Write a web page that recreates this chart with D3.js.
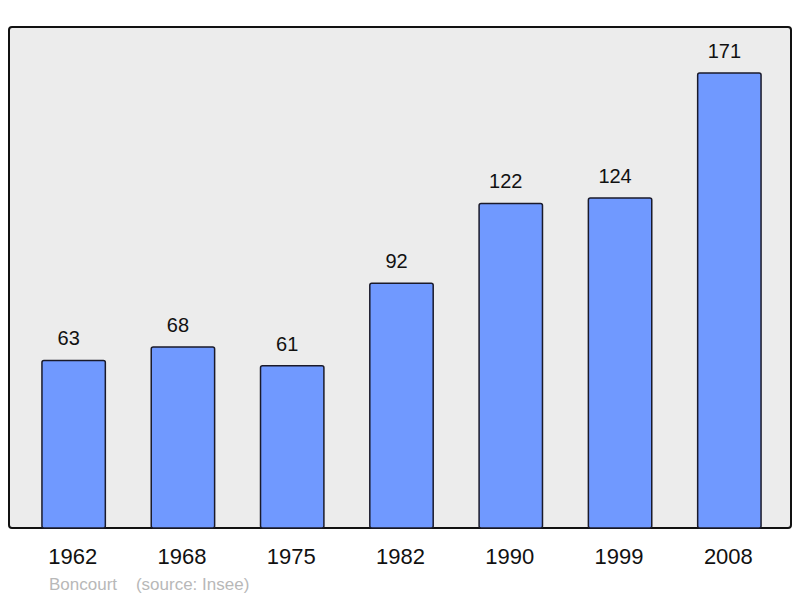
<!DOCTYPE html>
<html><head><meta charset="utf-8">
<script src="https://cdn.jsdelivr.net/npm/d3@7"></script>
<style>body{margin:0;background:#fff;}svg{display:block;font-family:"Liberation Sans",Arial,sans-serif;}</style>
</head><body>
<script>
const years = ["1962","1968","1975","1982","1990","1999","2008"];
const population = [63, 68, 61, 92, 122, 124, 171];
const commune = "Boncourt";
const source = "(source: Insee)";

const W = 800, H = 598;
const svg = d3.select("body").append("svg").attr("width", W).attr("height", H);
const frame = {x0: 9, y0: 27, x1: 791, y1: 528};

svg.append("rect").attr("x", frame.x0).attr("y", frame.y0)
  .attr("width", frame.x1 - frame.x0).attr("height", frame.y1 - frame.y0)
  .attr("rx", 3).attr("fill", "#ececec").attr("stroke", "#111").attr("stroke-width", 2);

const x = d3.scaleBand().domain(years).range([19, 784]).paddingInner(0.42).paddingOuter(0.21);
const y = d3.scaleLinear().domain([0, 188.3]).range([frame.y1, frame.y0]);

svg.selectAll("rect.bar").data(population).join("rect").attr("class", "bar")
  .attr("x", (d, i) => x(years[i])).attr("width", x.bandwidth())
  .attr("y", d => y(d)).attr("height", d => y(0) - y(d))
  .attr("rx", 2).attr("fill", "#7099ff").attr("stroke", "#1a1a2a").attr("stroke-width", 1.5);

svg.selectAll("text.val").data(population).join("text").attr("class", "val")
  .attr("x", (d, i) => x(years[i]) + x.bandwidth() / 2 - 5).attr("y", d => y(d) - 15)
  .attr("text-anchor", "middle").attr("font-size", 20).attr("fill", "#111").text(d => d);

const xAxis = svg.append("g").attr("transform", `translate(0,${frame.y1})`)
  .call(d3.axisBottom(x).tickSize(0).tickPadding(20));
xAxis.select(".domain").remove();
xAxis.selectAll("text").attr("font-size", 22).attr("fill", "#111")
  .attr("dx", -1)
  .attr("font-family", '"Liberation Sans",Arial,sans-serif');

svg.append("text").attr("x", 49).attr("y", 590).attr("font-size", 17).attr("fill", "#b8b8b8")
  .attr("xml:space", "preserve").text(commune + "    " + source);
</script>
</body></html>
